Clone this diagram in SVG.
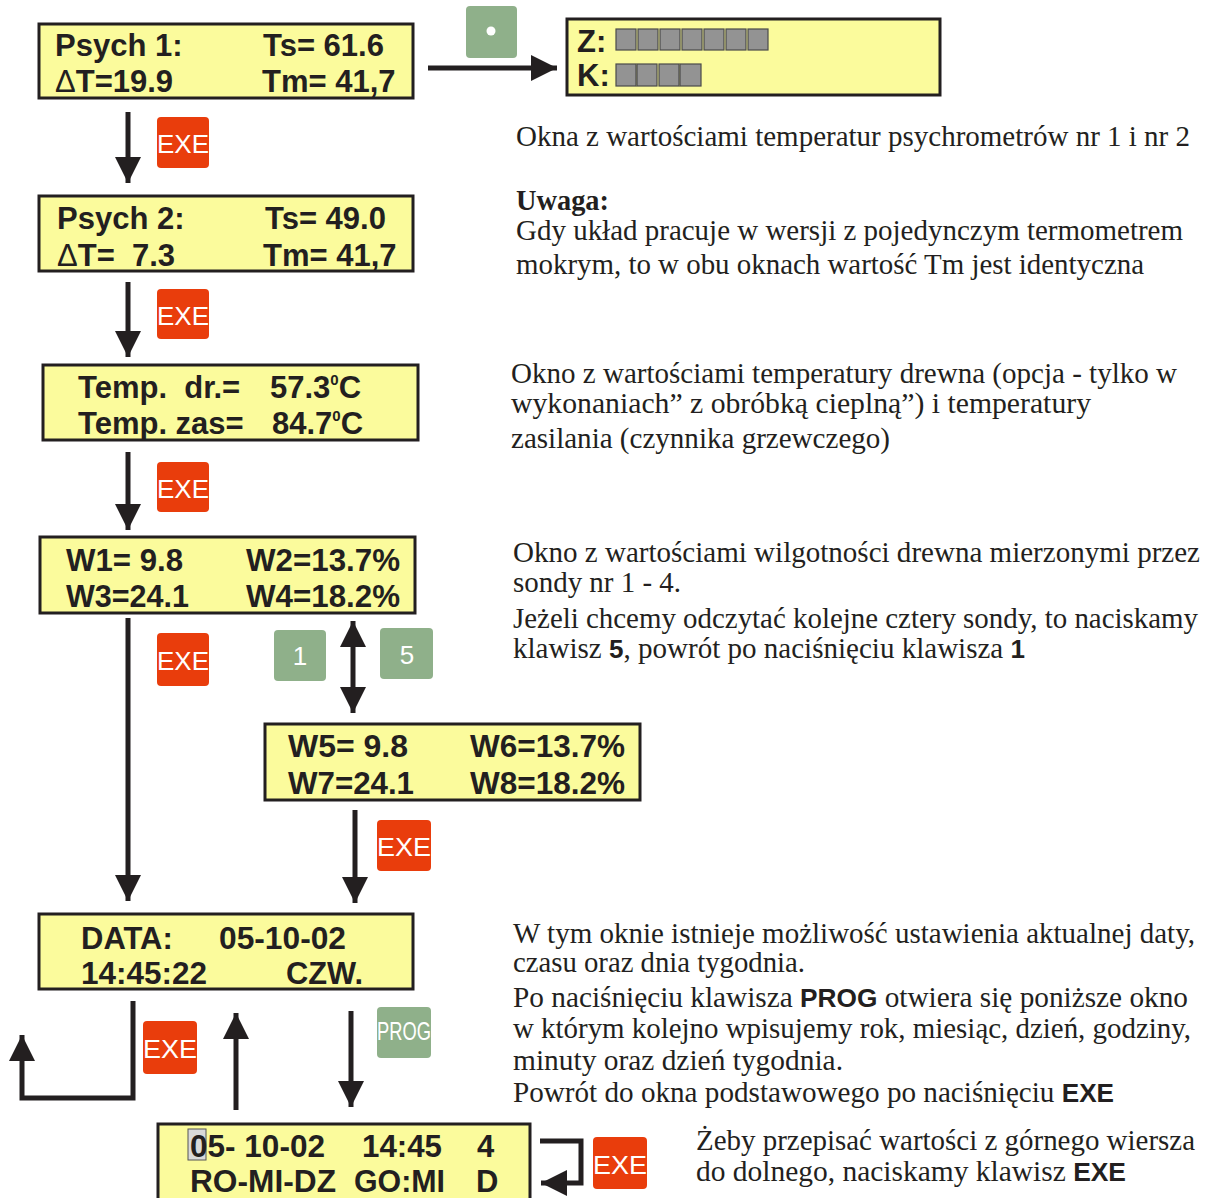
<svg xmlns="http://www.w3.org/2000/svg" width="1207" height="1198" viewBox="0 0 1207 1198">
<defs>
<style>
.lcd{fill:#fbfb9c;stroke:#231f20;stroke-width:3}
.lt{font-family:"Liberation Sans",Arial,sans-serif;font-weight:bold;font-size:31px;fill:#231f20}
.exe{fill:#e93d0c}
.grn{fill:#8fb08a}
.kt{font-family:"Liberation Sans",Arial,sans-serif;font-size:26px;fill:#ffffff}
.st{font-family:"Liberation Serif","Times New Roman",serif;font-size:29px;fill:#231f20}
.sb{font-family:"Liberation Sans",Arial,sans-serif;font-weight:bold;font-size:26px}
.ln{fill:none;stroke:#231f20;stroke-width:5}
.sq{fill:#939393;stroke:#4a4a4a;stroke-width:1.2}
</style>
<marker id="ah" markerUnits="userSpaceOnUse" markerWidth="28" markerHeight="28" refX="26" refY="13" orient="auto-start-reverse" viewBox="0 0 28 28">
<path d="M0,0 L26,13 L0,26 z" fill="#231f20"/>
</marker>
</defs>

<g id="connectors">
<line class="ln" x1="428" y1="68" x2="557" y2="68" marker-end="url(#ah)"/>
<line class="ln" x1="128" y1="112" x2="128" y2="183" marker-end="url(#ah)"/>
<line class="ln" x1="128" y1="282" x2="128" y2="357" marker-end="url(#ah)"/>
<line class="ln" x1="128" y1="452" x2="128" y2="530" marker-end="url(#ah)"/>
<line class="ln" x1="128" y1="618" x2="128" y2="901" marker-end="url(#ah)"/>
<line class="ln" x1="353" y1="621" x2="353" y2="713" marker-start="url(#ah)" marker-end="url(#ah)"/>
<line class="ln" x1="355" y1="810" x2="355" y2="903" marker-end="url(#ah)"/>
<path class="ln" d="M133,1001 V1098 H22 V1035" marker-end="url(#ah)"/>
<line class="ln" x1="236" y1="1110" x2="236" y2="1013" marker-end="url(#ah)"/>
<line class="ln" x1="351" y1="1011" x2="351" y2="1107" marker-end="url(#ah)"/>
<path class="ln" d="M540,1141 H581 V1183 H541" marker-end="url(#ah)"/>
</g>

<g id="psych1">
<rect class="lcd" x="39" y="24" width="374" height="74"/>
<text class="lt" x="55" y="56">Psych 1:</text>
<text class="lt" x="263" y="56">Ts= 61.6</text>
<text class="lt" x="55" y="92"><tspan font-weight="normal">Δ</tspan>T=19.9</text>
<text class="lt" x="262" y="92">Tm= 41,7</text>
</g>

<g id="key-dot">
<rect class="grn" x="466" y="6" width="51" height="52" rx="4"/>
<circle cx="491" cy="31" r="4.5" fill="#ffffff"/>
</g>

<g id="zk">
<rect class="lcd" x="567" y="19" width="373" height="76" stroke-width="3.5"/>
<text class="lt" x="577" y="52">Z:</text>
<text class="lt" x="577" y="86">K:</text>
<rect class="sq" x="616" y="29" width="20" height="21"/>
<rect class="sq" x="638" y="29" width="20" height="21"/>
<rect class="sq" x="660" y="29" width="20" height="21"/>
<rect class="sq" x="682" y="29" width="20" height="21"/>
<rect class="sq" x="704" y="29" width="20" height="21"/>
<rect class="sq" x="726" y="29" width="20" height="21"/>
<rect class="sq" x="748" y="29" width="20" height="21"/>
<rect class="sq" x="616" y="64" width="20" height="22"/>
<rect class="sq" x="637" y="64" width="20" height="22"/>
<rect class="sq" x="659" y="64" width="20" height="22"/>
<rect class="sq" x="680" y="64" width="21" height="22"/>
</g>

<g id="exe1"><rect class="exe" x="157" y="117" width="52" height="51" rx="4"/><text class="kt" x="157" y="153" textLength="52" lengthAdjust="spacingAndGlyphs">EXE</text></g>

<g id="psych2">
<rect class="lcd" x="39" y="196" width="374" height="75"/>
<text class="lt" x="57" y="229">Psych 2:</text>
<text class="lt" x="265" y="229">Ts= 49.0</text>
<text class="lt" x="57" y="266" xml:space="preserve"><tspan font-weight="normal">Δ</tspan>T=  7.3</text>
<text class="lt" x="263" y="266">Tm= 41,7</text>
</g>

<g id="exe2"><rect class="exe" x="157" y="289" width="52" height="50" rx="4"/><text class="kt" x="157" y="325" textLength="52" lengthAdjust="spacingAndGlyphs">EXE</text></g>

<g id="temp">
<rect class="lcd" x="43" y="365" width="375" height="75"/>
<text class="lt" x="78" y="398" xml:space="preserve">Temp.  dr.=</text>
<text class="lt" x="270" y="398">57.3<tspan font-size="15" dy="-13">0</tspan><tspan dy="13">C</tspan></text>
<text class="lt" x="78" y="434">Temp. zas=</text>
<text class="lt" x="272" y="434">84.7<tspan font-size="15" dy="-13">0</tspan><tspan dy="13">C</tspan></text>
</g>

<g id="exe3"><rect class="exe" x="157" y="462" width="52" height="50" rx="4"/><text class="kt" x="157" y="498" textLength="52" lengthAdjust="spacingAndGlyphs">EXE</text></g>

<g id="w1-4">
<rect class="lcd" x="40" y="537" width="375" height="76"/>
<text class="lt" x="66" y="571" textLength="117" lengthAdjust="spacingAndGlyphs">W1= 9.8</text>
<text class="lt" x="246" y="571" textLength="154" lengthAdjust="spacingAndGlyphs">W2=13.7%</text>
<text class="lt" x="66" y="607" textLength="123" lengthAdjust="spacingAndGlyphs">W3=24.1</text>
<text class="lt" x="246" y="607" textLength="154" lengthAdjust="spacingAndGlyphs">W4=18.2%</text>
</g>

<g id="exe4"><rect class="exe" x="157" y="633" width="52" height="53" rx="4"/><text class="kt" x="157" y="670" textLength="52" lengthAdjust="spacingAndGlyphs">EXE</text></g>

<g id="key1"><rect class="grn" x="274" y="630" width="52" height="51" rx="4"/><text class="kt" x="300" y="665" text-anchor="middle">1</text></g>
<g id="key5"><rect class="grn" x="380" y="628" width="53" height="51" rx="4"/><text class="kt" x="407" y="664" text-anchor="middle">5</text></g>

<g id="w5-8">
<rect class="lcd" x="265" y="724" width="375" height="76"/>
<text class="lt" x="288" y="757" textLength="120" lengthAdjust="spacingAndGlyphs">W5= 9.8</text>
<text class="lt" x="470" y="757" textLength="155" lengthAdjust="spacingAndGlyphs">W6=13.7%</text>
<text class="lt" x="288" y="794" textLength="126" lengthAdjust="spacingAndGlyphs">W7=24.1</text>
<text class="lt" x="470" y="794" textLength="155" lengthAdjust="spacingAndGlyphs">W8=18.2%</text>
</g>

<g id="exe5"><rect class="exe" x="377" y="820" width="54" height="51" rx="4"/><text class="kt" x="377" y="856" textLength="54" lengthAdjust="spacingAndGlyphs">EXE</text></g>

<g id="data">
<rect class="lcd" x="39" y="914" width="374" height="75"/>
<text class="lt" x="81" y="949">DATA:</text>
<text class="lt" x="219" y="949" textLength="127" lengthAdjust="spacingAndGlyphs">05-10-02</text>
<text class="lt" x="81" y="984" textLength="126" lengthAdjust="spacingAndGlyphs">14:45:22</text>
<text class="lt" x="286" y="984" textLength="77" lengthAdjust="spacingAndGlyphs">CZW.</text>
</g>

<g id="exe6"><rect class="exe" x="143" y="1021" width="54" height="53" rx="4"/><text class="kt" x="143" y="1058" textLength="54" lengthAdjust="spacingAndGlyphs">EXE</text></g>

<g id="prog"><rect class="grn" x="377" y="1007" width="54" height="51" rx="4"/><text class="kt" x="377" y="1040" font-size="18" textLength="54" lengthAdjust="spacingAndGlyphs">PROG</text></g>

<g id="set">
<rect class="lcd" x="158" y="1124" width="372" height="84"/>
<rect x="188" y="1129" width="18" height="31" fill="#d9d9d9" stroke="#555555" stroke-width="1"/>
<text class="lt" x="190" y="1157" textLength="135" lengthAdjust="spacingAndGlyphs">05- 10-02</text>
<text class="lt" x="362" y="1157" textLength="80" lengthAdjust="spacingAndGlyphs">14:45</text>
<text class="lt" x="477" y="1157">4</text>
<text class="lt" x="190" y="1192" font-size="30" textLength="146" lengthAdjust="spacingAndGlyphs">RO-MI-DZ</text>
<text class="lt" x="354" y="1192" font-size="30" textLength="91" lengthAdjust="spacingAndGlyphs">GO:MI</text>
<text class="lt" x="476" y="1192" font-size="30">D</text>
</g>

<g id="exe7"><rect class="exe" x="593" y="1137" width="54" height="52" rx="4"/><text class="kt" x="593" y="1174" textLength="54" lengthAdjust="spacingAndGlyphs">EXE</text></g>

<g id="notes">
<text class="st" x="516" y="146" textLength="674" lengthAdjust="spacingAndGlyphs">Okna z wartościami temperatur psychrometrów nr 1 i nr 2</text>
<text class="st" x="516" y="210" font-weight="bold" textLength="93" lengthAdjust="spacingAndGlyphs">Uwaga:</text>
<text class="st" x="516" y="240" textLength="667" lengthAdjust="spacingAndGlyphs">Gdy układ pracuje w wersji z pojedynczym termometrem</text>
<text class="st" x="516" y="274" textLength="628" lengthAdjust="spacingAndGlyphs">mokrym, to w obu oknach wartość Tm jest identyczna</text>
<text class="st" x="511" y="383" textLength="666" lengthAdjust="spacingAndGlyphs">Okno z wartościami temperatury drewna (opcja - tylko w</text>
<text class="st" x="511" y="413" textLength="580" lengthAdjust="spacingAndGlyphs">wykonaniach” z obróbką cieplną”) i temperatury</text>
<text class="st" x="511" y="448" textLength="379" lengthAdjust="spacingAndGlyphs">zasilania (czynnika grzewczego)</text>
<text class="st" x="513" y="562" textLength="687" lengthAdjust="spacingAndGlyphs">Okno z wartościami wilgotności drewna mierzonymi przez</text>
<text class="st" x="513" y="592" textLength="168" lengthAdjust="spacingAndGlyphs">sondy nr 1 - 4.</text>
<text class="st" x="513" y="628" textLength="685" lengthAdjust="spacingAndGlyphs">Jeżeli chcemy odczytać kolejne cztery sondy, to naciskamy</text>
<text class="st" x="513" y="658" textLength="512" lengthAdjust="spacingAndGlyphs">klawisz <tspan class="sb">5</tspan>, powrót po naciśnięciu klawisza <tspan class="sb">1</tspan></text>
<text class="st" x="513" y="943" textLength="682" lengthAdjust="spacingAndGlyphs">W tym oknie istnieje możliwość ustawienia aktualnej daty,</text>
<text class="st" x="513" y="972" textLength="292" lengthAdjust="spacingAndGlyphs">czasu oraz dnia tygodnia.</text>
<text class="st" x="513" y="1007" textLength="675" lengthAdjust="spacingAndGlyphs">Po naciśnięciu klawisza <tspan class="sb">PROG</tspan> otwiera się poniższe okno</text>
<text class="st" x="513" y="1038" textLength="678" lengthAdjust="spacingAndGlyphs">w którym kolejno wpisujemy rok, miesiąc, dzień, godziny,</text>
<text class="st" x="513" y="1070" textLength="330" lengthAdjust="spacingAndGlyphs">minuty oraz dzień tygodnia.</text>
<text class="st" x="513" y="1102" textLength="601" lengthAdjust="spacingAndGlyphs">Powrót do okna podstawowego po naciśnięciu <tspan class="sb">EXE</tspan></text>
<text class="st" x="696" y="1150" textLength="499" lengthAdjust="spacingAndGlyphs">Żeby przepisać wartości z górnego wiersza</text>
<text class="st" x="696" y="1181" textLength="430" lengthAdjust="spacingAndGlyphs">do dolnego, naciskamy klawisz <tspan class="sb">EXE</tspan></text>
</g>
</svg>
